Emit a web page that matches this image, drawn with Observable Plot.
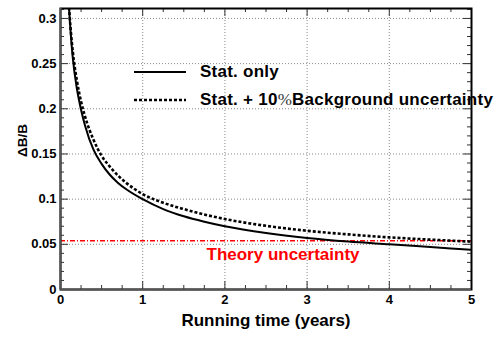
<!DOCTYPE html>
<html>
<head>
<meta charset="utf-8">
<script src="https://cdn.jsdelivr.net/npm/d3@7"></script>
<script src="https://cdn.jsdelivr.net/npm/@observablehq/plot@0.6"></script>
<style>
  html, body { margin: 0; padding: 0; background: white; }
  #wrap { position: relative; width: 498px; height: 346px; font-family: "Liberation Sans", Arial, sans-serif; }
  .leg { position: absolute; display: flex; align-items: center; height: 20px; font-size: 17px; font-weight: bold; color: black; white-space: nowrap; letter-spacing: 0.25px; }
  .leg svg { display: block; margin-right: 14px; }
  .pct { font-family: "Liberation Serif", "Times New Roman", serif; font-weight: normal; color: #333; }
</style>
</head>
<body>
<div id="wrap"></div>
<script>
// ---- data ----
const years    = [0.1, 0.12, 0.15, 0.2, 0.25, 0.3, 0.4, 0.5, 0.6, 0.7, 0.8, 1, 1.25, 1.5, 1.75, 2, 2.5, 3, 3.5, 4, 4.5, 5];
const statOnly = [0.316, 0.289, 0.256, 0.222, 0.199, 0.181, 0.155, 0.139, 0.127, 0.118, 0.111, 0.100, 0.089, 0.081, 0.075, 0.070, 0.0625, 0.057, 0.053, 0.050, 0.047, 0.044];
const statBkg  = [0.318, 0.292, 0.263, 0.231, 0.208, 0.191, 0.166, 0.148, 0.136, 0.126, 0.118, 0.1056, 0.096, 0.089, 0.083, 0.078, 0.0705, 0.065, 0.061, 0.0577, 0.0552, 0.053];
const theoryValue = 0.054;
const theoryLabel = "Theory uncertainty";
const seriesNames = ["Stat. only", "Stat. + 10%Background uncertainty"];
const xLabel = "Running time (years)";
const yLabel = "\u0394B/B";
const xMajor = [0, 1, 2, 3, 4, 5];
const xMinor = [0.25, 0.5, 0.75, 1.25, 1.5, 1.75, 2.25, 2.5, 2.75, 3.25, 3.5, 3.75, 4.25, 4.5, 4.75];
const yMajor = [0, 0.05, 0.1, 0.15, 0.2, 0.25, 0.3];
const yMinor = [0.01, 0.02, 0.03, 0.04, 0.06, 0.07, 0.08, 0.09, 0.11, 0.12, 0.13, 0.14, 0.16, 0.17, 0.18, 0.19, 0.21, 0.22, 0.23, 0.24, 0.26, 0.27, 0.28, 0.29, 0.31];

const statRows = years.map((t, i) => ({t, v: statOnly[i]}));
const bkgRows  = years.map((t, i) => ({t, v: statBkg[i]}));

const W = 498, H = 346, mL = 60, mT = 8, mR = 27, mB = 57;
const pw = W - mL - mR, ph = H - mT - mB;
const tickStroke = "#333";

const chart = Plot.plot({
  width: W, height: H,
  marginLeft: mL, marginTop: mT, marginRight: mR, marginBottom: mB,
  style: {fontFamily: "'Liberation Sans', Arial, sans-serif", background: "white", overflow: "visible"},
  x: {domain: [0, 5]},
  y: {domain: [0, 0.311]},
  marks: [
    Plot.gridX(xMajor.slice(1, -1), {stroke: "#888", strokeOpacity: 1, strokeDasharray: "1,2"}),
    Plot.gridY(yMajor.slice(1), {stroke: "#888", strokeOpacity: 1, strokeDasharray: "1,2"}),
    // inner ticks: bottom / top
    Plot.ruleX(xMajor, {insetTop: ph - 8, stroke: tickStroke}),
    Plot.ruleX(xMinor, {insetTop: ph - 4, stroke: tickStroke}),
    Plot.ruleX(xMajor, {insetBottom: ph - 8, stroke: tickStroke}),
    Plot.ruleX(xMinor, {insetBottom: ph - 4, stroke: tickStroke}),
    // inner ticks: left / right
    Plot.ruleY(yMajor, {insetRight: pw - 8, stroke: tickStroke}),
    Plot.ruleY(yMinor, {insetRight: pw - 4, stroke: tickStroke}),
    Plot.ruleY(yMajor, {insetLeft: pw - 8, stroke: tickStroke}),
    Plot.ruleY(yMinor, {insetLeft: pw - 4, stroke: tickStroke}),
    Plot.ruleY([theoryValue], {stroke: "#ff0000", strokeWidth: 1.6, strokeDasharray: "5,2,1,2", strokeLinecap: "butt"}),
    Plot.line(bkgRows, {x: "t", y: "v", stroke: "black", strokeWidth: 2.6, strokeDasharray: "3,2", strokeLinecap: "butt", curve: "monotone-x", clip: true}),
    Plot.line(statRows, {x: "t", y: "v", stroke: "black", strokeWidth: 2, curve: "monotone-x", clip: true}),
    Plot.text([{label: theoryLabel, v: theoryValue}], {y: "v", text: "label", frameAnchor: "left", dx: 146, dy: 14, textAnchor: "start", fill: "#ff0000", fontSize: 17, fontWeight: "bold"}),
    Plot.frame({stroke: "black", strokeWidth: 2}),
    Plot.ruleX([0], {stroke: "#555", strokeWidth: 2}),
    Plot.ruleY([0], {stroke: "#555", strokeWidth: 2}),
    Plot.axisX(xMajor, {tickSize: 0, tickPadding: 5, fontSize: 13, fontWeight: "bold", label: null, fill: "black", tickFormat: d => String(d)}),
    Plot.axisY(yMajor, {tickSize: 0, tickPadding: 4, fontSize: 13, fontWeight: "bold", label: null, fill: "black", tickFormat: d => String(d)}),
    Plot.text([xLabel], {frameAnchor: "bottom", dy: 36, fontSize: 17, fontWeight: "bold", fill: "black"}),
    Plot.text([yLabel], {frameAnchor: "left", dx: -38, dy: 8, rotate: -90, fontSize: 13.5, fontWeight: "bold", fill: "black"})
  ]
});

const wrap = document.getElementById("wrap");
wrap.appendChild(chart);

// legend overlay
const legendRows = [
  {name: seriesNames[0], dash: null, width: 2, top: 62},
  {name: seriesNames[1], dash: "3,2", width: 2.6, top: 90}
];
legendRows.forEach(r => {
  const div = document.createElement("div");
  div.className = "leg";
  div.style.left = "134px";
  div.style.top = r.top + "px";
  const svgNS = "http://www.w3.org/2000/svg";
  const s = document.createElementNS(svgNS, "svg");
  s.setAttribute("width", 52); s.setAttribute("height", 6);
  const ln = document.createElementNS(svgNS, "line");
  ln.setAttribute("x1", 0); ln.setAttribute("x2", 52); ln.setAttribute("y1", 3); ln.setAttribute("y2", 3);
  ln.setAttribute("stroke", "black"); ln.setAttribute("stroke-width", r.width);
  if (r.dash) ln.setAttribute("stroke-dasharray", r.dash);
  s.appendChild(ln);
  div.appendChild(s);
  const span = document.createElement("span");
  const parts = r.name.split("%");
  if (parts.length > 1) {
    span.appendChild(document.createTextNode(parts[0]));
    const p = document.createElement("span"); p.className = "pct"; p.textContent = "%";
    span.appendChild(p);
    span.appendChild(document.createTextNode(parts[1]));
  } else span.textContent = r.name;
  div.appendChild(span);
  wrap.appendChild(div);
});
</script>
</body>
</html>
